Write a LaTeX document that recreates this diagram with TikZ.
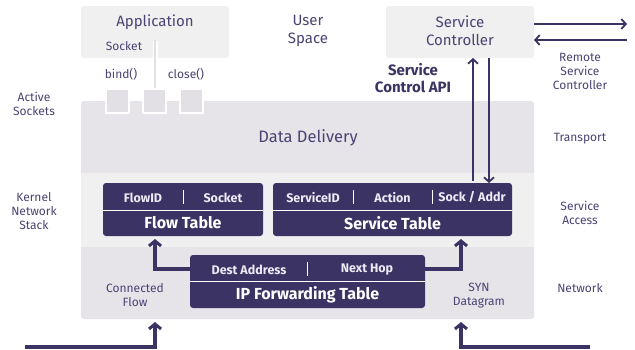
\documentclass[tikz,border=0pt]{standalone}
\usepackage{fontspec}
\setmainfont{Fira Sans}
\usetikzlibrary{arrows.meta}
\definecolor{navy}{HTML}{3B3363}
\definecolor{txt}{HTML}{4A4473}
\definecolor{lightbg}{HTML}{F0F0F0}
\definecolor{midbg}{HTML}{E6E4E9}
\definecolor{sockfill}{HTML}{E2E0E5}
\definecolor{hdrtxt}{HTML}{EEEAF5}
\begin{document}
\begin{tikzpicture}[x=1pt,y=-1pt,
  lbl/.style={text=txt, font=\fontsize{12}{14}\selectfont, align=center, inner sep=0},
  biglbl/.style={text=txt, font=\fontsize{15}{18}\selectfont, align=center, inner sep=0},
  apilbl/.style={text=navy, font=\bfseries\fontsize{15}{17}\selectfont, align=center, inner sep=0},
  topbox/.style={fill=lightbg, rounded corners=3pt, inner sep=0, outer sep=0},
  tbl/.style={fill=navy, rounded corners=3pt, inner sep=0, outer sep=0},
  hdr/.style={text=hdrtxt, font=\bfseries\fontsize{12.5}{14}\selectfont, inner sep=0},
  tbltitle/.style={text=white, font=\bfseries\fontsize{16}{18}\selectfont, inner sep=0},
  sockbox/.style={fill=sockfill, draw=white, line width=1.5pt, minimum width=23, minimum height=24, inner sep=0},
  thickarr/.style={draw=navy, line width=3.5pt, -{Straight Barb[length=5pt,width=12pt,line width=3pt]}},
  thinarr/.style={draw=navy, line width=1.8pt, -{Straight Barb[length=4.5pt,width=10pt,line width=1.8pt]}},
  divider/.style={draw=white, line width=1pt}
]
\useasboundingbox (0,0) rectangle (635,349);
\fill[white] (0,0) rectangle (635,349);

% kernel area
\node[fill=midbg, rounded corners=3pt, minimum width=453, minimum height=218, inner sep=0, outer sep=0] (kern) at (307.5,210) {};
\fill[lightbg] (81,173) rectangle (534,247);
\node[biglbl, font=\fontsize{16.5}{19}\selectfont] (dd) at (308,138) {Data Delivery};

% top boxes
\node[topbox, minimum width=148, minimum height=52] (app) at (155,32) {};
\node[biglbl] (apptitle) at (155,22) {Application};
\node[lbl] (socklbl) at (124,46) {Socket};
\node[topbox, minimum width=148, minimum height=52] (sc) at (460,32) {};
\node[biglbl] (sctitle) at (460,31) {Service\\Controller};
\node[biglbl] (us) at (308,31) {User\\Space};

% socket line
\coordinate (sktop) at (155,41);
\coordinate (skbot) at (155,90);
\draw[white, line width=5pt] (sktop) -- (skbot);
\draw[sockfill, line width=2.5pt] ([yshift=1pt]sktop) -- (skbot);

\node[lbl] (bind) at (121,74) {bind()};
\node[lbl] (close) at (186,74) {close()};

% active sockets
\node[sockbox] (s1) at (117.5,101) {};
\node[sockbox] (s2) at (154.5,101) {};
\node[sockbox] (s3) at (191.5,101) {};

% side labels
\node[lbl] (active) at (34,103.5) {Active\\Sockets};
\node[lbl] (kns) at (34,211) {Kernel\\Network\\Stack};
\node[lbl] (transport) at (580,139) {Transport};
\node[lbl] (sa) at (580,212.5) {Service\\Access};
\node[lbl] (net) at (580,288) {Network};
\node[lbl] (rsc) at (580,71) {Remote\\Service\\Controller};
\node[apilbl] (api) at (413,78.5) {Service\\Control API};
\node[lbl] (cflow) at (135,295.5) {Connected\\Flow};
\node[lbl] (syn) at (479,295.5) {SYN\\Datagram};

% flow table
\node[tbl, minimum width=160, minimum height=53] (flow) at (183,209.5) {};
\draw[divider] (flow.west |- 0,210.7) -- (flow.east |- 0,210.7);
\draw[divider] (183,190) -- (183,204);
\node[hdr] (fid) at (143,197.5) {FlowID};
\node[hdr] (fsock) at (223,197.5) {Socket};
\node[tbltitle] (ftitle) at (183,223) {Flow Table};

% service table
\node[tbl, minimum width=239, minimum height=53] (svc) at (392.5,209.5) {};
\draw[divider] (svc.west |- 0,210.7) -- (svc.east |- 0,210.7);
\draw[divider] (353,190) -- (353,204);
\draw[divider] (432,190) -- (432,204);
\node[hdr] (sid) at (313,197.5) {ServiceID};
\node[hdr] (act) at (392.5,197.5) {Action};
\node[hdr] (sa2) at (472,197.5) {Sock / Addr};
\node[tbltitle] (stitle) at (392.5,223) {Service Table};

% ip forwarding table
\node[tbl, minimum width=235, minimum height=53] (ip) at (307.5,281.5) {};
\draw[divider] (ip.west |- 0,281.7) -- (ip.east |- 0,281.7);
\draw[divider] (307,262) -- (307,276);
\node[hdr] (dest) at (249,269.5) {Dest Address};
\node[hdr] (nhop) at (367,269.5) {Next Hop};
\node[tbltitle] (iptitle) at (307.5,295) {IP Forwarding Table};

% arrows
\coordinate (lx) at (155,0);
\coordinate (rx) at (461,0);
\coordinate (hy) at (0,269);
\draw[thickarr, shorten >=3pt] (ip.west |- hy) -| (flow.south -| lx);
\draw[thickarr, shorten >=3pt] (ip.east |- hy) -| (svc.south -| rx);
\coordinate (inL) at (25,347);
\coordinate (inR) at (590,347);
\draw[thickarr, shorten >=3pt] (inL) -| (kern.south -| lx);
\draw[thickarr, shorten >=3pt] (inR) -| (kern.south -| rx);

\coordinate (upx) at (473,0);
\coordinate (dnx) at (489,0);
\draw[thinarr] ([yshift=2pt]svc.north -| upx) -- (sc.south -| upx);
\draw[thinarr] (sc.south -| dnx) -- (svc.north -| dnx);

\coordinate (rout) at (627,24);
\coordinate (rin) at (627,40);
\draw[thinarr] (sc.east |- rout) -- (rout);
\draw[thinarr] (rin) -- (sc.east |- rin);
\end{tikzpicture}
\end{document}
